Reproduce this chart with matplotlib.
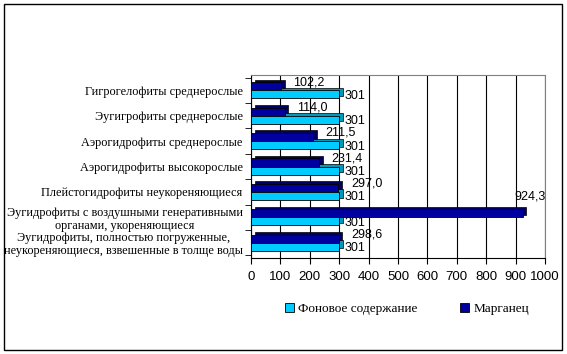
import numpy as np
import matplotlib.pyplot as plt
from matplotlib.patches import Rectangle

categories = [
    "Гигрогелофиты среднерослые",
    "Эугигрофиты среднерослые",
    "Аэрогидрофиты среднерослые",
    "Аэрогидрофиты высокорослые",
    "Плейстогидрофиты неукореняющиеся",
    "Эугидрофиты с воздушными генеративными\nорганами, укореняющиеся",
    "Эугидрофиты, полностью погруженные,\nнеукореняющиеся, взвешенные в толще воды",
]
background = [301, 301, 301, 301, 301, 301, 301]
manganese = [102.2, 114.0, 211.5, 231.4, 297.0, 924.3, 298.6]
xticks = list(range(0, 1001, 100))

cyan = "#00CCFF"
cyan_dark = "#0099BB"
navy = "#0000A0"
navy_dark = "#000060"
serif = "Liberation Serif"
sans = "Liberation Sans"

fig = plt.figure(figsize=(5.67, 3.54), dpi=100)
fig.patches.append(Rectangle((4 / 567, 4 / 354), 558 / 567, 346 / 354,
                             transform=fig.transFigure, fill=False,
                             edgecolor="black", linewidth=1))
ax = fig.add_axes([251 / 567, 1 - 258 / 354, 294 / 567, 183 / 354])

y = np.arange(len(categories))
h = 0.32
# fake 3d depth
dx, dy = 12, 0.1
ax.barh(y + h / 2 - dy, background, left=dx, height=h, color=cyan_dark,
        edgecolor="black", linewidth=0.5, zorder=2)
ax.barh(y - h / 2 - dy, manganese, left=dx, height=h, color=navy_dark,
        edgecolor="black", linewidth=0.5, zorder=2.5)
ax.barh(y - h / 2, manganese, height=h, color=navy, edgecolor="black",
        linewidth=0.6, label="Марганец", zorder=3)
ax.barh(y + h / 2, background, height=h, color=cyan, edgecolor="black",
        linewidth=0.6, label="Фоновое содержание", zorder=3.5)

for yi, v in zip(y, manganese):
    off = (9, 0) if v < 800 else (-6, 9)
    ax.annotate(f"{v:.1f}".replace(".", ","), (v, yi - h), xytext=off,
                textcoords="offset points", ha="left", va="center",
                fontsize=9, family=sans, zorder=4)
for yi, v in zip(y, background):
    ax.annotate(f"{v}", (v, yi + h / 2), xytext=(4, -1),
                textcoords="offset points", ha="left", va="center",
                fontsize=9, family=sans, zorder=4)

ax.set_xlim(0, 1000)
ax.set_ylim(len(categories) - 0.4, -0.6)
ax.set_xticks(xticks)
ax.set_xticklabels([str(t) for t in xticks], family=sans, fontsize=9.5)
ax.set_yticks(y)
ax.set_yticklabels(categories, family=serif, fontsize=8.8, ha="right",
                   multialignment="center", linespacing=1.1)
ax.set_yticks(np.arange(len(categories) + 1) - 0.5, minor=True)
ax.tick_params(axis="y", which="major", length=0, pad=6)
ax.tick_params(axis="y", which="minor", length=4)
ax.tick_params(axis="x", length=4, pad=5)
ax.grid(axis="x", color="black", linewidth=0.8, zorder=0)
for side in ["top", "right"]:
    ax.spines[side].set_color("gray")
ax.spines["left"].set_linewidth(0.8)
ax.spines["bottom"].set_linewidth(0.8)

handles, labels = ax.get_legend_handles_labels()
fig.legend(handles[::-1], labels[::-1], loc="center", ncol=2,
           bbox_to_anchor=(407 / 567, 1 - 309 / 354), frameon=False,
           prop={"family": serif, "size": 9.5}, handlelength=0.7,
           handleheight=0.7, columnspacing=3.2, handletextpad=0.3)

fig.savefig("out.png", dpi=100)
